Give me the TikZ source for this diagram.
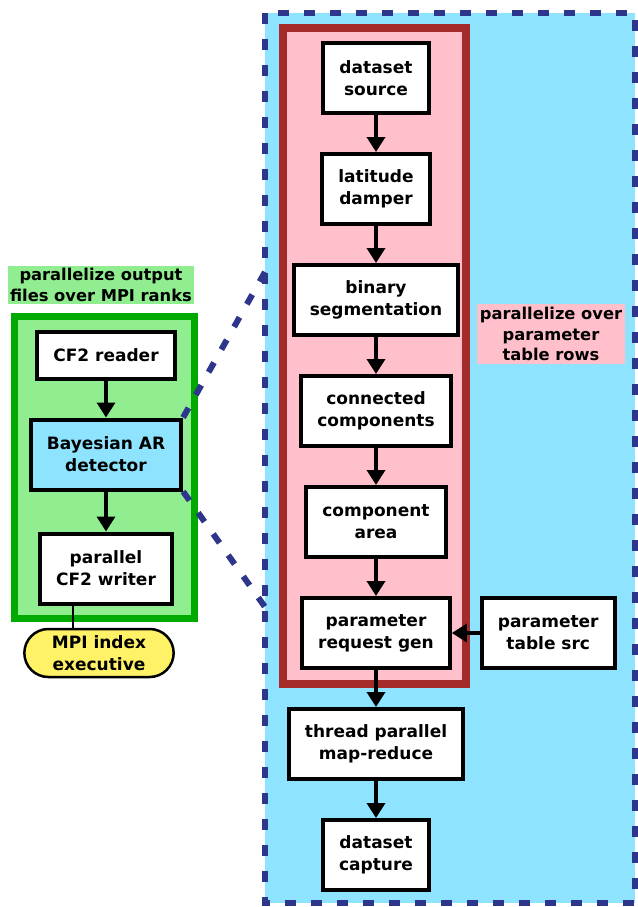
\documentclass[tikz,border=0pt]{standalone}
\usepackage{fontspec}
\setmainfont{DejaVu Sans}
\usetikzlibrary{positioning,arrows.meta}
\usetikzlibrary{shapes.misc}
\usepackage{xcolor}
\definecolor{skyfill}{RGB}{142,228,255}
\definecolor{zoomblue}{RGB}{46,54,140}
\definecolor{mpiyellow}{RGB}{255,242,102}
\definecolor{rowpink}{RGB}{255,192,203}
\definecolor{rowbrown}{RGB}{165,42,42}
\definecolor{rankgreen}{RGB}{0,170,0}
\definecolor{ranklight}{RGB}{144,238,144}

\begin{document}
\begin{tikzpicture}[x=1pt,y=1pt]
  \tikzstyle{every node}=[align=center, font=\bfseries\fontsize{17}{22}\selectfont]
  \tikzstyle{algo}=[draw, rectangle, fill=white, line width=4pt, inner xsep=16pt, minimum height=70pt]
  \tikzstyle{tag}=[font=\bfseries\fontsize{16.3}{20.5}\selectfont]
  \tikzstyle{zoomline}=[draw=zoomblue, line width=6pt, dash pattern=on 11pt off 15pt]
  \useasboundingbox (0,0) rectangle (637,-907);
  % \draw [step=50,gray, very thin] (0,0) grid (637,-907);

  % regions
  \fill [skyfill] (265,-13) rectangle (635,-903);
  \draw [zoomline] (265,-13) rectangle (635,-903);
  \draw [rowbrown, fill=rowpink, line width=8pt] (283,-28) rectangle (466,-684);
  \draw [rankgreen, fill=ranklight, line width=7pt] (14,-316) rectangle (194,-618);

  \node [tag, fill=ranklight, inner sep=2pt] (l1) at (101,-285) {parallelize output\\files over MPI ranks};
  \node [tag, fill=rowpink, inner sep=3pt] (l2) at (551,-334) {parallelize over\\parameter\\table rows};

  \node [algo] (n1) at (376,-78) {dataset\\source};
  \node [algo, below = 37pt of n1] (n2) {latitude\\damper};
  \node [algo, below = 37pt of n2] (n3) {binary\\segmentation};
  \node [algo, below = 37pt of n3] (n4) {connected\\components};
  \node [algo, below = 37pt of n4] (n5) {component\\area};
  \node [algo, below = 37pt of n5] (n6) {parameter\\request gen};
  \node [algo, right = 28pt of n6] (n7) {parameter\\table src};
  \node [algo, below = 37pt of n6] (n8) {thread parallel\\map-reduce};
  \node [algo, below = 37pt of n8] (n9) {dataset\\capture};

  \node [algo, minimum height=47pt] (m1) at (106,-355) {CF2 reader};
  \node [algo, fill=skyfill, below = 37pt of m1] (m2) {Bayesian AR\\detector};
  \node [algo, below = 40pt of m2] (m3) {parallel\\CF2 writer};
  \node [draw, rounded rectangle, fill=mpiyellow, line width=2.5pt, minimum width=156pt, minimum height=48pt] (m4) at (99,-653) {MPI index\\executive};

  \coordinate (zt) at (265,-272);
  \coordinate (zb) at (265,-607);
  \draw [zoomline] (m2.north east) -- (zt);
  \draw [zoomline] (m2.south east) -- (zb);

  \draw [-{Triangle[length=15pt,width=18pt]}, line width=3.5pt] (n1) -- (n2);
  \draw [-{Triangle[length=15pt,width=18pt]}, line width=3.5pt] (n2) -- (n3);
  \draw [-{Triangle[length=15pt,width=18pt]}, line width=3.5pt] (n3) -- (n4);
  \draw [-{Triangle[length=15pt,width=18pt]}, line width=3.5pt] (n4) -- (n5);
  \draw [-{Triangle[length=15pt,width=18pt]}, line width=3.5pt] (n5) -- (n6);
  \draw [-{Triangle[length=15pt,width=18pt]}, line width=3.5pt] (n7) -- (n6);
  \draw [-{Triangle[length=15pt,width=18pt]}, line width=3.5pt] (n6) -- (n8);
  \draw [-{Triangle[length=15pt,width=18pt]}, line width=3.5pt] (n8) -- (n9);
  \draw [-{Triangle[length=15pt,width=18pt]}, line width=3.5pt] (m1) -- (m2);
  \draw [-{Triangle[length=15pt,width=18pt]}, line width=3.5pt] (m2) -- (m3);
  \draw [line width=2pt] (m3.228) -- (m3.228 |- m4.north);
\end{tikzpicture}
\end{document}
